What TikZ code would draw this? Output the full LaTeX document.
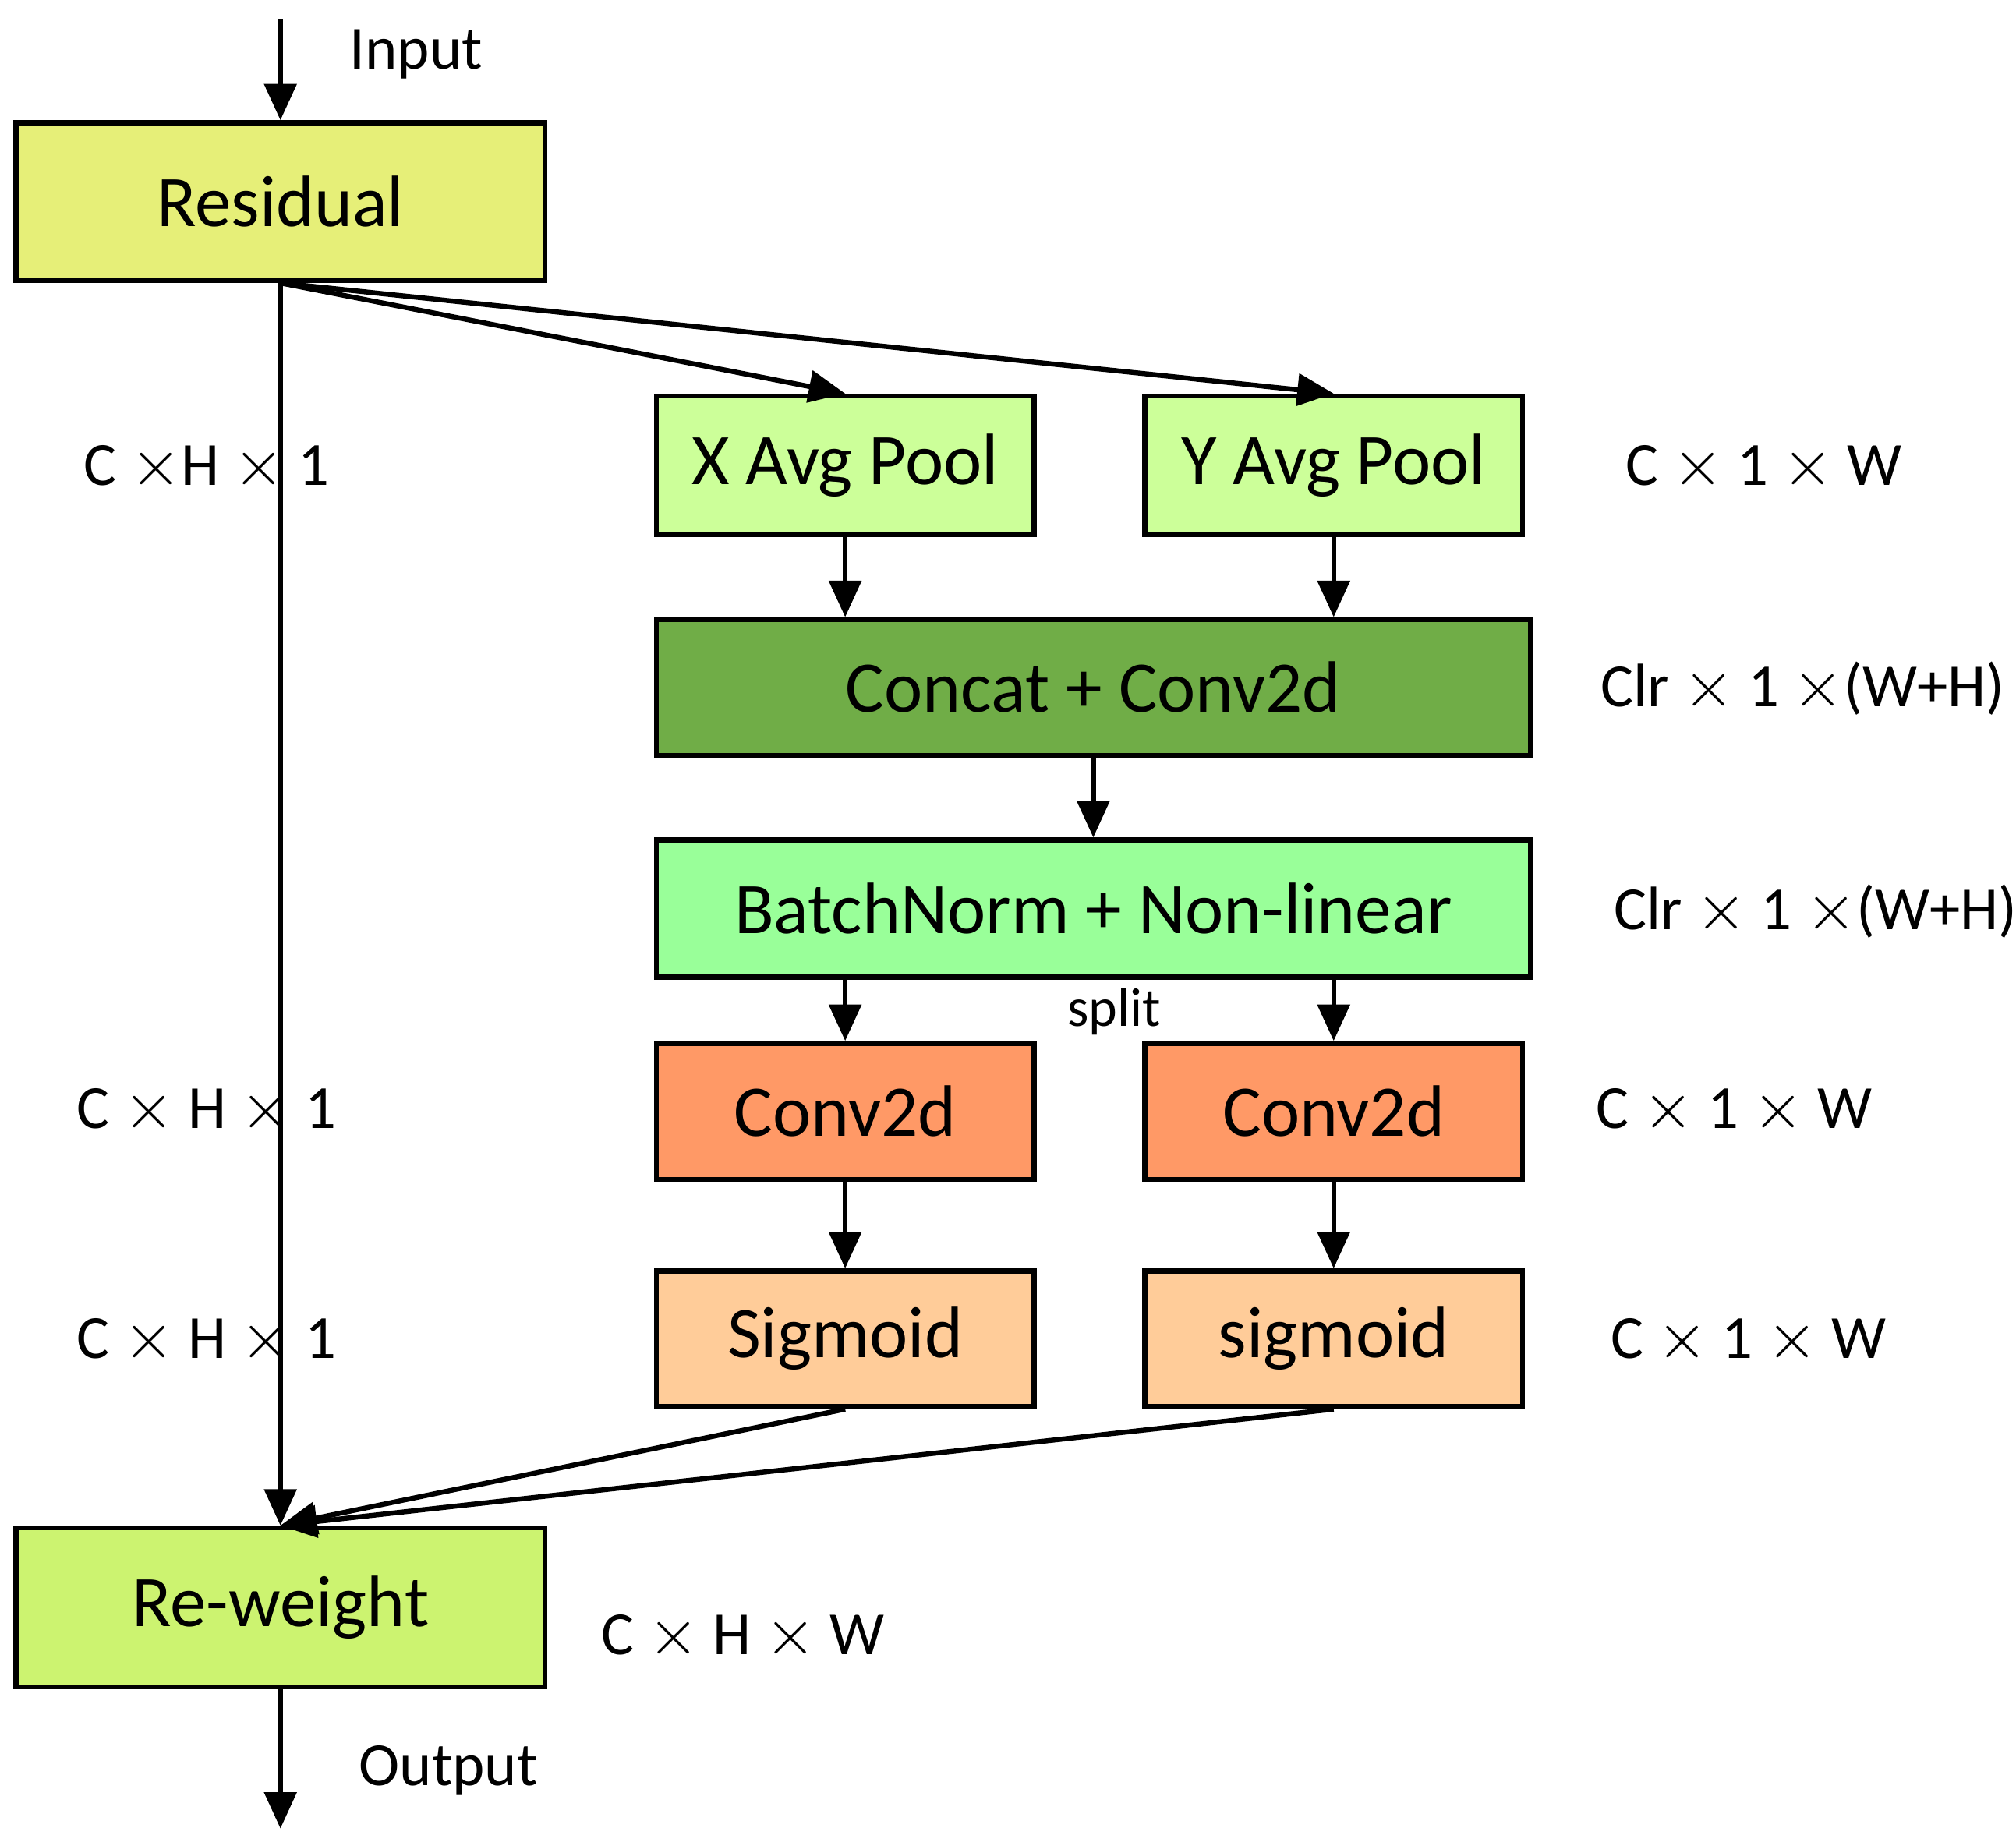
\documentclass[tikz,border=0pt]{standalone}
\usepackage{fontspec}
\setmainfont{Carlito}
\usetikzlibrary{arrows.meta}
\definecolor{cres}{HTML}{E6EF78}
\definecolor{cpool}{HTML}{CCFF99}
\definecolor{ccat}{HTML}{70AD47}
\definecolor{cbn}{HTML}{99FF99}
\definecolor{cconv}{HTML}{FF9966}
\definecolor{csig}{HTML}{FFCC99}
\definecolor{crw}{HTML}{CCF370}
\begin{document}
\begin{tikzpicture}[x=0.01cm,y=-0.01cm,
  box/.style={draw=black,line width=1.1pt,inner sep=0pt,font=\fontsize{16}{18}\selectfont},
  lab/.style={font=\fontsize{13.5}{15}\selectfont},
  arr/.style={line width=1.1pt,-{Triangle[length=8pt,width=7pt]}}]
\useasboundingbox (0,0) rectangle (1560,1420);
\node[box,fill=cres,minimum width=4.09cm,minimum height=1.22cm] (res) at (217,156) {Residual};
\node[box,fill=cpool,minimum width=2.92cm,minimum height=1.07cm] (xp) at (654,360) {X Avg Pool};
\node[box,fill=cpool,minimum width=2.92cm,minimum height=1.07cm] (yp) at (1032,360) {Y Avg Pool};
\node[box,fill=ccat,minimum width=6.76cm,minimum height=1.05cm] (cat) at (846,532) {Concat + Conv2d};
\node[box,fill=cbn,minimum width=6.76cm,minimum height=1.06cm] (bn) at (846,703) {BatchNorm + Non-linear};
\node[box,fill=cconv,minimum width=2.92cm,minimum height=1.05cm] (c1) at (654,860) {Conv2d};
\node[box,fill=cconv,minimum width=2.92cm,minimum height=1.05cm] (c2) at (1032,860) {Conv2d};
\node[box,fill=csig,minimum width=2.92cm,minimum height=1.05cm] (s1) at (654,1036) {Sigmoid};
\node[box,fill=csig,minimum width=2.92cm,minimum height=1.05cm] (s2) at (1032,1036) {sigmoid};
\node[box,fill=crw,minimum width=4.09cm,minimum height=1.23cm] (rw) at (217,1244) {Re-weight};
\coordinate (in) at (217,15);
\coordinate (out) at (217,1415);
\draw[arr] (in) -- (res.north);
\draw[arr] (res.south) -- (xp.north);
\draw[arr] (res.south) -- (yp.north);
\draw[arr] (res.south) -- (rw.north);
\draw[arr] (xp.south) -- (xp.south|-cat.north);
\draw[arr] (yp.south) -- (yp.south|-cat.north);
\draw[arr] (cat.south) -- (bn.north);
\draw[arr] (c1.north|-bn.south) -- (c1.north);
\draw[arr] (c2.north|-bn.south) -- (c2.north);
\draw[arr] (c1.south) -- (s1.north);
\draw[arr] (c2.south) -- (s2.north);
\draw[arr] (s1.south) -- (rw.north);
\draw[arr] (s2.south) -- (rw.north);
\draw[arr] (rw.south) -- (out);
\node[lab] (tin) at (322,42) {Input};
\node[lab] (tout) at (347,1370) {Output};
\node[lab] (l1) at (160,362) {C $\times$H $\times$ 1};
\node[lab] (r1) at (1365,362) {C $\times$ 1 $\times$ W};
\node[lab] (r2) at (1395,533) {Clr $\times$ 1 $\times$(W+H)};
\node[lab] (r3) at (1405,705) {Clr $\times$ 1 $\times$(W+H)};
\node[lab,font=\fontsize{12}{14}\selectfont] (sp) at (862,783) {split};
\node[lab] (l2) at (160,860) {C $\times$ H $\times$ 1};
\node[lab] (r4) at (1342,860) {C $\times$ 1 $\times$ W};
\node[lab] (l3) at (160,1038) {C $\times$ H $\times$ 1};
\node[lab] (r5) at (1353,1038) {C $\times$ 1 $\times$ W};
\node[lab] (l4) at (575,1267) {C $\times$ H $\times$ W};
\end{tikzpicture}
\end{document}
